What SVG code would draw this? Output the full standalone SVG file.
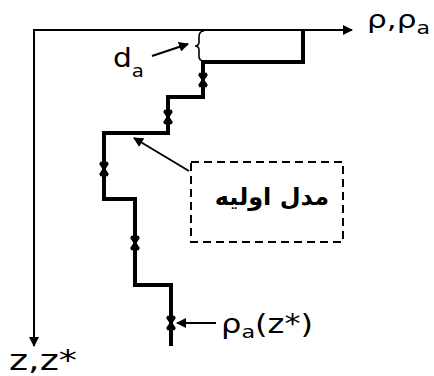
<svg xmlns="http://www.w3.org/2000/svg" width="434" height="376" viewBox="0 0 434 376">
<style>
.ax{stroke:#000;stroke-width:2;fill:none}
.pr{stroke:#000;stroke-width:4;fill:none;stroke-linejoin:miter}
.ptr{stroke:#000;stroke-width:2;fill:none}
.x{stroke:#000;stroke-width:2.4;fill:none}
.t{font-family:"DejaVu Sans","Open Sans",sans-serif;fill:#000}
.fa{font-family:"DejaVu Sans","Noto Sans",sans-serif;font-weight:bold;fill:#000}
</style>
<defs>
<marker id="ah" viewBox="0 0 10 10" refX="9" refY="5" markerWidth="10" markerHeight="10" markerUnits="userSpaceOnUse" orient="auto">
<path d="M0,0 L10,5 L0,10 z" fill="#000"/>
</marker>
<g id="xm"><path class="x" d="M-4,-6 L4,6 M4,-6 L-4,6 M-4,-6 L-1,-6 M1,-6 L4,-6 M-4,6 L-1,6 M1,6 L4,6"/></g>
</defs>
<g id="connectors">
<line class="ax" x1="33" y1="30" x2="352" y2="30" marker-end="url(#ah)"/>
<line class="ax" x1="34" y1="29" x2="34" y2="346" marker-end="url(#ah)"/>
<line class="ptr" x1="152" y1="56" x2="188" y2="44" marker-end="url(#ah)"/>
<line class="ptr" x1="189" y1="171" x2="134" y2="138" marker-end="url(#ah)"/>
<line class="ptr" x1="216" y1="323" x2="177" y2="323" marker-end="url(#ah)"/>
</g>
<g id="profile">
<path class="pr" d="M303,30 L303,62 L203,62 L203,97 L168,97 L168,133 L104,133 L104,199 L135,199 L135,285 L171,285 L171,346"/>
<path d="M204,31 Q199,31 199,37 L199,42 Q199,46 195,46 Q199,46 199,50 L199,56 Q199,61 204,61" stroke="#000" stroke-width="1.6" fill="none"/>
<use href="#xm" x="203" y="80"/>
<use href="#xm" x="168" y="117"/>
<use href="#xm" x="104" y="169"/>
<use href="#xm" x="135" y="243"/>
<use href="#xm" x="171" y="323"/>
</g>
<g id="label-rho">
<text class="t" x="367" y="28" font-size="24" textLength="63" lengthAdjust="spacingAndGlyphs">ρ,ρ<tspan font-size="17" dy="6">a</tspan></text>
</g>
<g id="label-da">
<text class="t" x="113" y="67" font-size="27" textLength="31" lengthAdjust="spacingAndGlyphs">d<tspan font-size="18" dy="10">a</tspan></text>
</g>
<g id="label-z">
<text class="t" x="9" y="370" font-size="28" textLength="68" lengthAdjust="spacingAndGlyphs">z,z*</text>
</g>
<g id="label-rhoa-z">
<text class="t" x="221" y="333" font-size="26" textLength="92" lengthAdjust="spacingAndGlyphs">ρ<tspan font-size="18" dy="5">a</tspan><tspan dy="-5">(z*)</tspan></text>
</g>
<g id="initial-model">
<rect x="191" y="162" width="152" height="80" fill="none" stroke="#000" stroke-width="2" stroke-dasharray="8,5"/>
<text class="fa" x="272" y="205" font-size="24" text-anchor="middle" direction="rtl">مدل اولیه</text>
</g>
</svg>
